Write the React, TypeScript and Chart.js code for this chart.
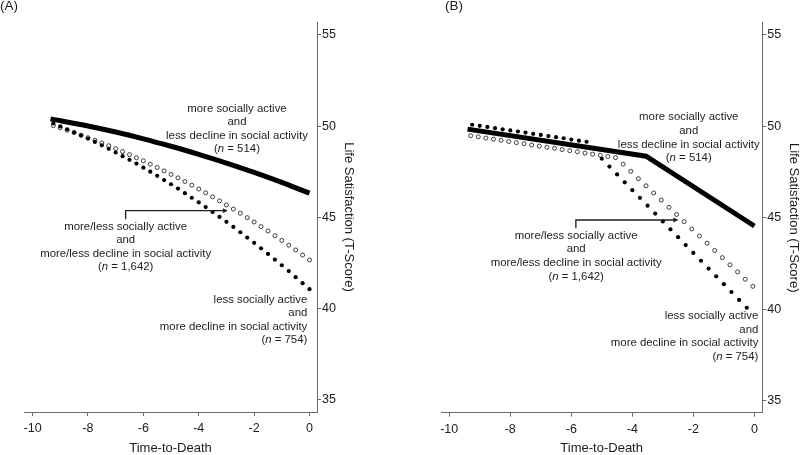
import React, { useEffect, useRef } from 'react';
import { Chart, registerables } from 'chart.js';

Chart.register(...registerables);

// ---------- shared axis ticks ----------
const xTickValues = [-10, -8, -6, -4, -2, 0];
const yTickValues = [35, 40, 45, 50, 55];

// ---------- Panel A ----------
const aTime = [-9.25, -9, -8.75, -8.5, -8.25, -8, -7.75, -7.5, -7.25, -7, -6.75, -6.5, -6.25, -6, -5.75, -5.5, -5.25, -5, -4.75, -4.5, -4.25, -4, -3.75, -3.5, -3.25, -3, -2.75, -2.5, -2.25, -2, -1.75, -1.5, -1.25, -1, -0.75, -0.5, -0.25, 0];
const aLessActive = [50.15, 49.99, 49.83, 49.67, 49.49, 49.32, 49.14, 48.95, 48.76, 48.56, 48.36, 48.16, 47.95, 47.73, 47.51, 47.28, 47.05, 46.82, 46.58, 46.33, 46.08, 45.83, 45.57, 45.3, 45.03, 44.76, 44.48, 44.19, 43.9, 43.61, 43.31, 43.0, 42.69, 42.38, 42.06, 41.73, 41.4, 41.07];
const aMixed = [50.03, 49.91, 49.78, 49.65, 49.51, 49.37, 49.23, 49.08, 48.93, 48.77, 48.61, 48.44, 48.27, 48.1, 47.92, 47.74, 47.55, 47.36, 47.17, 46.97, 46.77, 46.56, 46.35, 46.13, 45.91, 45.69, 45.46, 45.23, 44.99, 44.75, 44.5, 44.26, 44.0, 43.74, 43.48, 43.22, 42.94, 42.67];
const aMoreTime = [-9.35, -8, -7, -6, -5, -4, -3, -2, -1, 0];
const aMoreActive = [50.4, 50.01, 49.68, 49.31, 48.9, 48.46, 47.98, 47.47, 46.92, 46.33];

// ---------- Panel B ----------
const bFilledTime = [-9.25, -9, -8.75, -8.5, -8.25, -8, -7.75, -7.5, -7.25, -7, -6.75, -6.5, -6.25, -6, -5.75, -5.5, -5.25, -5, -4.75, -4.5, -4.25, -4, -3.75, -3.5, -3.25, -3, -2.75, -2.5, -2.25, -2, -1.75, -1.5, -1.25, -1, -0.75, -0.5, -0.25];
const bLessActive = [50.09, 50.03, 49.97, 49.9, 49.84, 49.78, 49.72, 49.66, 49.59, 49.53, 49.47, 49.41, 49.35, 49.28, 49.22, 49.16, null, 48.23, 47.8, 47.37, 46.94, 46.51, 46.09, 45.66, 45.23, 44.8, 44.37, 43.94, 43.51, 43.08, 42.65, 42.22, 41.8, 41.37, 40.94, 40.51, 40.08];
const bOpenTime = [-9.3, -9.05, -8.8, -8.55, -8.3, -8.05, -7.8, -7.55, -7.3, -7.05, -6.8, -6.55, -6.3, -6.05, -5.8, -5.55, -5.3, -5.05, -4.8, -4.55, -4.3, -4.05, -3.8, -3.55, -3.3, -3.05, -2.8, -2.55, -2.3, -2.05, -1.8, -1.55, -1.3, -1.05, -0.8, -0.55, -0.3, -0.05];
const bMixed = [49.49, 49.43, 49.36, 49.3, 49.24, 49.17, 49.11, 49.05, 48.98, 48.92, 48.86, 48.8, 48.73, 48.67, 48.61, 48.54, 48.48, 48.42, 48.35, 48.29, 47.93, 47.54, 47.14, 46.75, 46.36, 45.97, 45.57, 45.18, 44.79, 44.39, 44.0, 43.61, 43.21, 42.82, 42.43, 42.04, 41.64, 41.25];
const bMoreTime = [-9.4, -3.55, 0];
const bMoreActive = [49.85, 48.37, 44.55];

// ---------- Annotation texts ----------
const moreActiveLabel = ['more socially active', 'and', 'less decline in social activity', '(*n* = 514)'];
const mixedLabel = ['more/less socially active', 'and', 'more/less decline in social activity', '(*n* = 1,642)'];
const lessActiveLabel = ['less socially active', 'and', 'more decline in social activity', '(*n* = 754)'];

const FONT = '"Liberation Sans", Arial, Helvetica, sans-serif';
const TEXT = '#1c1c1c';
const AXIS = '#6a6a6a';

type Block = { x: number; y: number; align: CanvasTextAlign; lines: string[] };
type PanelDef = {
  letter: string;
  letterX: number;
  xMin: number; xMax: number; yMin: number; yMax: number;
  padLeft: number; padTop: number; yAxisW: number; xAxisH: number; yTitlePad: number;
  lineGap: number;
  blocks: Block[];
  bracket: { x0: number; x1: number; yH: number; yV: number };
  datasets: any[];
};

function zip(xs: number[], ys: (number | null)[]) {
  return xs.map((x, i) => ({ x, y: ys[i] }));
}

function drawRich(ctx: CanvasRenderingContext2D, text: string, x: number, y: number, align: CanvasTextAlign, size: number) {
  const parts = text.split('*');
  const fonts = parts.map((_, i) => (i % 2 ? `italic ${size}px ${FONT}` : `${size}px ${FONT}`));
  const widths = parts.map((p, i) => {
    ctx.font = fonts[i];
    return ctx.measureText(p).width;
  });
  const total = widths.reduce((a, b) => a + b, 0);
  let sx = align === 'center' ? x - total / 2 : align === 'right' ? x - total : x;
  ctx.textAlign = 'left';
  ctx.textBaseline = 'middle';
  parts.forEach((p, i) => {
    ctx.font = fonts[i];
    ctx.fillText(p, sx, y);
    sx += widths[i];
  });
}

function makeConfig(p: PanelDef): any {
  const annot = {
    id: 'annot' + p.letter,
    afterDraw(chart: any) {
      const ctx = chart.ctx as CanvasRenderingContext2D;
      const xs = chart.scales.x;
      const ys = chart.scales.y;
      ctx.save();
      ctx.fillStyle = TEXT;
      p.blocks.forEach((b) => {
        const px = xs.getPixelForValue(b.x);
        const py = ys.getPixelForValue(b.y);
        b.lines.forEach((ln, i) => drawRich(ctx, ln, px, py + i * p.lineGap, b.align, 11.4));
      });
      // bracket with arrow
      const bx0 = xs.getPixelForValue(p.bracket.x0);
      const bx1 = xs.getPixelForValue(p.bracket.x1);
      const byH = ys.getPixelForValue(p.bracket.yH);
      const byV = ys.getPixelForValue(p.bracket.yV);
      ctx.strokeStyle = TEXT;
      ctx.lineWidth = 1.3;
      ctx.beginPath();
      ctx.moveTo(bx0, byV);
      ctx.lineTo(bx0, byH);
      ctx.lineTo(bx1 - 4, byH);
      ctx.stroke();
      ctx.beginPath();
      ctx.moveTo(bx1, byH);
      ctx.lineTo(bx1 - 5, byH - 2.4);
      ctx.lineTo(bx1 - 5, byH + 2.4);
      ctx.closePath();
      ctx.fill();
      // panel letter
      ctx.font = `13.5px ${FONT}`;
      ctx.textAlign = 'left';
      ctx.textBaseline = 'middle';
      ctx.fillText(p.letter, p.letterX, 6.5);
      ctx.restore();
    },
  };

  return {
    type: 'scatter',
    data: { datasets: p.datasets },
    options: {
      animation: false,
      responsive: false,
      devicePixelRatio: 1,
      layout: { padding: { left: p.padLeft, top: p.padTop, right: 0, bottom: 0 } },
      plugins: { legend: { display: false }, tooltip: { enabled: false } },
      scales: {
        x: {
          type: 'linear',
          position: 'bottom',
          min: p.xMin,
          max: p.xMax,
          afterBuildTicks: (s: any) => {
            s.ticks = xTickValues.map((v) => ({ value: v }));
          },
          afterFit: (s: any) => {
            s.height = p.xAxisH;
          },
          grid: { drawOnChartArea: false, drawTicks: true, tickLength: 4, color: AXIS, lineWidth: 1 },
          border: { display: true, color: AXIS, width: 1 },
          ticks: { color: TEXT, padding: 5, font: { family: FONT, size: 12.5 }, maxRotation: 0 },
          title: { display: true, text: 'Time-to-Death', color: TEXT, font: { family: FONT, size: 13, lineHeight: 1 }, padding: 0 },
        },
        y: {
          type: 'linear',
          position: 'right',
          min: p.yMin,
          max: p.yMax,
          afterBuildTicks: (s: any) => {
            s.ticks = yTickValues.map((v) => ({ value: v }));
          },
          afterFit: (s: any) => {
            s.width = p.yAxisW;
          },
          grid: { drawOnChartArea: false, drawTicks: true, tickLength: 4, color: AXIS, lineWidth: 1 },
          border: { display: true, color: AXIS, width: 1 },
          ticks: { color: TEXT, padding: 1, font: { family: FONT, size: 12.5 } },
          title: {
            display: true,
            text: 'Life Satisfaction (T-Score)',
            color: TEXT,
            font: { family: FONT, size: 13, lineHeight: 1 },
            padding: { top: p.yTitlePad, bottom: 0 },
          },
        },
      },
    },
    plugins: [annot],
  };
}

const solidStyle = {
  showLine: true,
  pointRadius: 0,
  borderColor: '#000',
  borderWidth: 5,
  backgroundColor: '#000',
};
const filledStyle = {
  showLine: false,
  pointRadius: 2.1,
  pointBackgroundColor: '#000',
  pointBorderWidth: 0,
  borderColor: '#000',
};
const openStyle = {
  showLine: false,
  pointRadius: 2.0,
  pointBackgroundColor: '#fff',
  pointBorderColor: '#2a2a2a',
  pointBorderWidth: 0.9,
};

const panelA: PanelDef = {
  letter: '(A)',
  letterX: 0,
  xMin: -10.31, xMax: 0.27, yMin: 34.34, yMax: 55.71,
  padLeft: 24, padTop: 22, yAxisW: 83, xAxisH: 43, yTitlePad: 44.5,
  lineGap: 13.4,
  blocks: [
    { x: -2.62, y: 50.95, align: 'center', lines: moreActiveLabel },
    { x: -6.64, y: 44.5, align: 'center', lines: mixedLabel },
    { x: -0.08, y: 40.48, align: 'right', lines: lessActiveLabel },
  ],
  bracket: { x0: -6.64, x1: -2.95, yH: 45.37, yV: 44.9 },
  datasets: [
    { ...solidStyle, data: zip(aMoreTime, aMoreActive), cubicInterpolationMode: 'monotone' },
    { ...filledStyle, data: zip(aTime, aLessActive) },
    { ...openStyle, data: zip(aTime, aMixed) },
  ],
};

const panelB: PanelDef = {
  letter: '(B)',
  letterX: 45,
  xMin: -10.27, xMax: 0.26, yMin: 34.34, yMax: 55.67,
  padLeft: 41, padTop: 22.7, yAxisW: 37.7, xAxisH: 42.3, yTitlePad: 0,
  lineGap: 13.6,
  blocks: [
    { x: -2.15, y: 50.5, align: 'center', lines: moreActiveLabel },
    { x: -5.84, y: 44.02, align: 'center', lines: mixedLabel },
    { x: 0.13, y: 39.64, align: 'right', lines: lessActiveLabel },
  ],
  bracket: { x0: -5.85, x1: -2.49, yH: 44.88, yV: 44.43 },
  datasets: [
    { ...solidStyle, data: zip(bMoreTime, bMoreActive), tension: 0, borderJoinStyle: 'miter' },
    { ...filledStyle, data: zip(bFilledTime, bLessActive) },
    { ...openStyle, data: zip(bOpenTime, bMixed) },
  ],
};

function Panel({ def, left }: { def: PanelDef; left: number }) {
  const ref = useRef<HTMLCanvasElement | null>(null);
  useEffect(() => {
    if (!ref.current) return;
    const chart = new Chart(ref.current, makeConfig(def));
    return () => chart.destroy();
  }, [def]);
  return (
    <div style={{ position: 'absolute', left, top: 0, width: 400, height: 455 }}>
      <canvas ref={ref} width={400} height={455} style={{ width: 400, height: 455, display: 'block' }} />
    </div>
  );
}

export default function App() {
  return (
    <div style={{ position: 'absolute', left: 0, top: 0, width: 800, height: 455, background: '#fff', overflow: 'hidden' }}>
      <Panel def={panelA} left={0} />
      <Panel def={panelB} left={400} />
    </div>
  );
}
